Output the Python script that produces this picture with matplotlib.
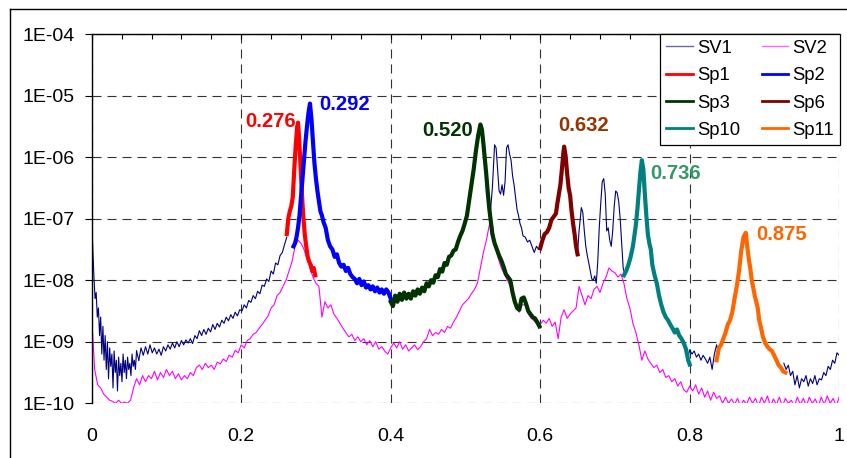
import numpy as np
import matplotlib
matplotlib.use("Agg")
import matplotlib.pyplot as plt
from matplotlib.lines import Line2D
from matplotlib.ticker import FixedLocator, FuncFormatter, NullLocator, MultipleLocator

plt.rcParams["font.family"] = ["Liberation Sans", "DejaVu Sans"]
plt.rcParams["lines.scale_dashes"] = False

# ---------------------------------------------------------------------------
# Spectra, stored as log10 of the amplitude
# ---------------------------------------------------------------------------

# SV1 near zero frequency: fine bins from 0 to 0.06
sv1_a1_x = np.linspace(0.0, 0.06, 41)
sv1_a1 = [-6.93, -7.5, -7.95, -8.3, -8.2, -8.6, -8.45, -8.9, -8.6, -9.2,
          -8.75, -9.3, -8.9, -9.45, -9.0, -9.6, -9.1, -9.4, -9.2, -9.75,
          -9.15, -9.5, -9.3, -9.8, -9.25, -9.55, -9.35, -9.65, -9.2, -9.5,
          -9.3, -9.6, -9.25, -9.45, -9.35, -9.55, -9.2, -9.4, -9.3, -9.45,
          -9.15]

# SV1 rising flank: bins from 0.063 to 0.261
sv1_a2_x = np.linspace(0.063, 0.261, 67)
sv1_a2 = [-9.3, -9.1, -9.22, -9.08, -9.2, -9.05, -9.18, -9.1, -9.2, -9.12,
          -9.22, -9.08, -9.15, -9.05, -9.12, -9.02, -9.1, -9.0, -9.08, -8.98,
          -9.05, -8.97, -9.02, -8.95, -9.03, -8.9, -8.95, -8.82, -8.9, -8.8,
          -8.88, -8.78, -8.84, -8.72, -8.8, -8.7, -8.76, -8.65, -8.7, -8.6,
          -8.66, -8.56, -8.62, -8.52, -8.58, -8.48, -8.5, -8.4, -8.45, -8.33,
          -8.36, -8.25, -8.3, -8.18, -8.22, -8.08, -8.1, -7.98, -8.02, -7.85,
          -7.9, -7.72, -7.75, -7.6, -7.55, -7.42, -7.3]

sv1_b_x = [0.533, 0.536, 0.539, 0.541, 0.543, 0.545, 0.547, 0.549, 0.551, 0.553,
           0.555, 0.557, 0.559, 0.561, 0.563, 0.565, 0.567, 0.569, 0.571, 0.573,
           0.575, 0.577, 0.580, 0.583, 0.586, 0.589, 0.592, 0.595, 0.598, 0.601]
sv1_b = [-6.95, -6.5, -5.8, -5.85, -6.2, -6.55, -6.6, -6.45, -6.62, -6.4,
         -5.85, -5.8, -5.95, -6.05, -6.3, -6.45, -6.65, -6.85, -6.95, -7.08,
         -7.15, -7.28, -7.3, -7.38, -7.35, -7.45, -7.55, -7.45, -7.5, -7.45]

sv1_c_x = [0.650, 0.652, 0.654, 0.655, 0.657, 0.659, 0.661, 0.663, 0.665, 0.667,
           0.669, 0.671, 0.673, 0.675, 0.677, 0.679, 0.681, 0.683, 0.685, 0.687,
           0.689, 0.691, 0.693, 0.695, 0.697, 0.699, 0.701, 0.703, 0.705, 0.707,
           0.709, 0.711, 0.713]
sv1_c = [-7.55, -7.2, -6.95, -6.82, -6.9, -7.2, -7.45, -7.6, -7.72, -7.85,
         -7.98, -8.0, -7.93, -8.05, -7.7, -7.15, -6.75, -6.4, -6.35, -6.6,
         -7.2, -7.15, -7.35, -7.45, -7.2, -6.8, -6.55, -6.58, -6.72, -7.0,
         -7.4, -7.8, -7.9]

sv1_d_x = [0.797, 0.800, 0.803, 0.806, 0.809, 0.812, 0.815, 0.818, 0.821, 0.824,
           0.827, 0.830, 0.833, 0.836, 0.839]
sv1_d = [-9.3, -9.13, -9.2, -9.15, -9.25, -9.2, -9.3, -9.22, -9.28, -9.35,
         -9.25, -9.45, -9.2, -9.05, -9.2]

sv1_e_x = np.linspace(0.926, 1.0, 26)
sv1_e = [-9.35, -9.45, -9.38, -9.55, -9.48, -9.7, -9.55, -9.75, -9.6, -9.65,
         -9.55, -9.72, -9.6, -9.68, -9.55, -9.7, -9.6, -9.62, -9.5, -9.55,
         -9.4, -9.45, -9.3, -9.35, -9.18, -9.22]

# SV2: uniform bins from 0 to 1
sv2_x = np.linspace(0.0, 1.0, 251)
sv2 = [-8.62, -9.45, -9.7, -9.75, -9.85, -9.9, -9.95, -9.97, -10.0, -9.95,
       -10.0, -9.98, -10.0, -9.95, -9.75, -9.6, -9.7, -9.55, -9.65, -9.55,
       -9.6, -9.48, -9.62, -9.5, -9.58, -9.45, -9.55, -9.48, -9.6, -9.52,
       -9.62, -9.55, -9.6, -9.5, -9.55, -9.42, -9.38, -9.45, -9.35, -9.42,
       -9.38, -9.45, -9.33, -9.36, -9.28, -9.32, -9.22, -9.25, -9.14, -9.18,
       -9.05, -9.1, -8.98, -8.95, -8.88, -8.85, -8.78, -8.72, -8.65, -8.58,
       -8.45, -8.4, -8.25, -8.2, -8.1, -8.0, -7.85, -7.7, -7.45, -7.35,
       -7.4, -7.5, -7.65, -7.8, -7.95, -8.05, -8.1, -8.6, -8.35, -8.45,
       -8.4, -8.55, -8.62, -8.7, -8.78, -8.85, -8.92, -8.88, -8.98, -8.92,
       -9.0, -8.95, -9.05, -8.98, -9.08, -9.0, -9.12, -9.08, -9.15, -9.2,
       -9.1, -9.02, -9.1, -9.0, -9.12, -9.05, -9.15, -9.1, -9.05, -9.13,
       -9.08, -9.0, -8.95, -8.8, -8.9, -8.85, -8.88, -8.8, -8.85, -8.75,
       -8.78, -8.68, -8.6, -8.5, -8.4, -8.35, -8.3, -8.22, -8.15, -8.05,
       -7.8, -7.55, -7.35, -7.1, -7.1, -7.45, -7.65, -7.8, -7.9, -8.0,
       -8.1, -8.28, -8.45, -8.52, -8.4, -8.4, -8.55, -8.62, -8.66, -8.72,
       -8.72, -8.65, -8.7, -8.62, -8.75, -8.68, -8.95, -8.6, -8.48, -8.62,
       -8.55, -8.5, -8.45, -8.1, -8.25, -8.4, -8.25, -8.3, -8.15, -8.1,
       -8.2, -8.05, -7.95, -7.8, -7.85, -7.88, -7.95, -7.9, -8.05, -8.3,
       -8.45, -8.7, -8.85, -9.05, -9.3, -9.15, -9.28, -9.35, -9.42, -9.38,
       -9.5, -9.45, -9.58, -9.55, -9.65, -9.6, -9.72, -9.65, -9.78, -9.82,
       -9.72, -9.8, -9.7, -9.85, -9.75, -9.9, -9.8, -9.95, -9.82, -9.92,
       -9.88, -10.0, -9.9, -10.0, -9.93, -10.02, -9.92, -10.05, -9.95, -10.02,
       -9.9, -10.0, -9.92, -10.05, -9.9, -10.0, -9.88, -10.05, -9.93, -10.02,
       -9.9, -10.05, -9.92, -10.0, -9.95, -10.05, -9.9, -10.02, -9.92, -10.05,
       -9.9, -10.0, -9.93, -10.05, -9.9, -10.02, -9.88, -10.0, -9.92, -10.05,
       -9.9]

# Picked peak segments
sp1_x = [0.261, 0.263, 0.265, 0.267, 0.269, 0.271, 0.273, 0.275, 0.276, 0.277,
         0.279, 0.281, 0.283, 0.285, 0.287, 0.289, 0.291, 0.293, 0.295, 0.297,
         0.299]
sp1 = [-7.25, -7.0, -6.88, -6.8, -6.65, -6.2, -5.8, -5.5, -5.44, -5.6,
       -6.05, -6.55, -6.95, -7.25, -7.45, -7.62, -7.7, -7.75, -7.85, -7.8,
       -7.92]

sp2_x = [0.270, 0.272, 0.274, 0.276, 0.278, 0.280, 0.282, 0.284, 0.286, 0.288,
         0.290, 0.292, 0.294, 0.296, 0.298, 0.300, 0.302, 0.304, 0.306, 0.308,
         0.310, 0.313, 0.316, 0.319, 0.322, 0.325, 0.328, 0.331, 0.334, 0.337,
         0.340, 0.343, 0.346, 0.349, 0.352, 0.355, 0.358, 0.361, 0.364, 0.367,
         0.370, 0.373, 0.376, 0.379, 0.382, 0.385, 0.388, 0.391, 0.394, 0.397,
         0.400]
sp2 = [-7.45, -7.4, -7.3, -7.15, -6.95, -6.65, -6.35, -6.05, -5.75, -5.5,
       -5.28, -5.13, -5.38, -5.75, -6.1, -6.35, -6.55, -6.72, -6.88, -6.95,
       -7.05, -7.15, -7.35, -7.45, -7.5, -7.62, -7.58, -7.72, -7.78, -7.75,
       -7.85, -7.8, -7.9, -7.95, -7.98, -8.05, -7.98, -8.08, -8.02, -8.12,
       -8.08, -8.15, -8.1, -8.18, -8.12, -8.2, -8.15, -8.22, -8.15, -8.2,
       -8.3]

sp3_x = [0.400, 0.403, 0.406, 0.409, 0.412, 0.415, 0.418, 0.421, 0.424, 0.427,
         0.430, 0.433, 0.436, 0.439, 0.442, 0.445, 0.448, 0.451, 0.454, 0.457,
         0.460, 0.463, 0.466, 0.469, 0.472, 0.475, 0.478, 0.481, 0.484, 0.487,
         0.490, 0.493, 0.496, 0.499, 0.502, 0.505, 0.508, 0.511, 0.514, 0.517,
         0.520, 0.522, 0.524, 0.526, 0.528, 0.530, 0.532, 0.534, 0.536, 0.539,
         0.542, 0.545, 0.548, 0.551, 0.554, 0.557, 0.560, 0.563, 0.566, 0.569,
         0.572, 0.575, 0.578, 0.581, 0.584, 0.587, 0.590, 0.593, 0.596, 0.599]
sp3 = [-8.35, -8.42, -8.25, -8.35, -8.22, -8.32, -8.2, -8.3, -8.22, -8.3,
       -8.18, -8.25, -8.15, -8.22, -8.12, -8.18, -8.05, -8.1, -8.0, -8.04,
       -7.92, -7.95, -7.82, -7.86, -7.72, -7.75, -7.62, -7.6, -7.52, -7.5,
       -7.38, -7.28, -7.2, -7.08, -6.95, -6.7, -6.45, -6.2, -5.9, -5.65,
       -5.47, -5.55, -5.78, -6.04, -6.3, -6.6, -6.85, -7.05, -7.25, -7.4,
       -7.5, -7.6, -7.68, -7.78, -7.9, -7.95, -8.0, -8.2, -8.35, -8.45,
       -8.48, -8.3, -8.28, -8.38, -8.5, -8.55, -8.6, -8.62, -8.68, -8.75]

sp6_x = [0.600, 0.603, 0.606, 0.609, 0.612, 0.615, 0.618, 0.621, 0.623, 0.625,
         0.627, 0.629, 0.631, 0.632, 0.634, 0.636, 0.638, 0.640, 0.642, 0.644,
         0.646, 0.648, 0.650]
sp6 = [-7.48, -7.35, -7.25, -7.22, -7.15, -7.02, -6.97, -6.92, -6.75, -6.6,
       -6.45, -6.2, -5.93, -5.83, -5.98, -6.26, -6.5, -6.62, -6.88, -7.08,
       -7.25, -7.45, -7.58]

sp10_x = [0.712, 0.715, 0.718, 0.721, 0.724, 0.726, 0.728, 0.730, 0.732, 0.734,
          0.736, 0.738, 0.740, 0.742, 0.744, 0.746, 0.748, 0.750, 0.753, 0.756,
          0.759, 0.762, 0.765, 0.768, 0.771, 0.774, 0.777, 0.780, 0.783, 0.786,
          0.789, 0.792, 0.795, 0.798, 0.800]
sp10 = [-7.92, -7.85, -7.75, -7.62, -7.45, -7.28, -7.1, -6.85, -6.55, -6.25,
        -6.05, -6.2, -6.6, -6.95, -7.25, -7.4, -7.5, -7.75, -7.92, -8.05,
        -8.25, -8.4, -8.52, -8.6, -8.65, -8.72, -8.78, -8.85, -8.8, -8.9,
        -8.95, -9.02, -9.12, -9.3, -9.37]

sp11_x = [0.836, 0.839, 0.842, 0.845, 0.848, 0.851, 0.854, 0.857, 0.860, 0.863,
          0.866, 0.869, 0.872, 0.875, 0.877, 0.879, 0.881, 0.883, 0.885, 0.887,
          0.889, 0.891, 0.893, 0.895, 0.898, 0.901, 0.904, 0.907, 0.910, 0.913,
          0.916, 0.919, 0.922, 0.925, 0.928]
sp11 = [-9.3, -9.1, -9.05, -8.95, -8.85, -8.72, -8.65, -8.52, -8.3, -8.1,
        -7.85, -7.52, -7.3, -7.23, -7.45, -7.65, -7.8, -8.0, -8.12, -8.25,
        -8.35, -8.45, -8.65, -8.75, -8.92, -9.02, -9.08, -9.12, -9.15, -9.22,
        -9.3, -9.38, -9.42, -9.48, -9.5]

# Peak frequencies written next to each picked peak
peak_freqs = [0.276, 0.292, 0.520, 0.632, 0.736, 0.875]

# ---------------------------------------------------------------------------
# Styles
# ---------------------------------------------------------------------------
c_sv1, c_sv2 = "#000080", "#FF00FF"
seg_specs = [
    ("Sp1", sp1_x, sp1, "#FF0000", "#FF0000", (-1.5, 0.5), "right"),
    ("Sp2", sp2_x, sp2, "#0000FF", "#0000FF", (7.0, -0.8), "left"),
    ("Sp3", sp3_x, sp3, "#003300", "#003300", (-5.5, -4.0), "right"),
    ("Sp6", sp6_x, sp6, "#800000", "#993300", (-4.0, 15.5), "left"),
    ("Sp10", sp10_x, sp10, "#008080", "#339966", (6.3, -9.4), "left"),
    ("Sp11", sp11_x, sp11, "#FF6600", "#FF6600", (7.3, -1.2), "left"),
]

W, H = 847, 458
fig = plt.figure(figsize=(W / 100, H / 100), dpi=100)
ax = fig.add_axes([91.7 / W, 1 - 403.3 / H, 747.5 / W, 369.3 / H])

# outer chart frame
fig.add_artist(Line2D([9.5 / W, 9.5 / W], [0, 1 - 8.5 / H], transform=fig.transFigure,
                      color="black", lw=1.0))
fig.add_artist(Line2D([9.5 / W, 1], [1 - 8.5 / H, 1 - 8.5 / H], transform=fig.transFigure,
                      color="black", lw=1.0))

thin = 0.8
for xs, ys in [(sv1_a1_x, sv1_a1), (sv1_a2_x, sv1_a2), (sv1_b_x, sv1_b),
               (sv1_c_x, sv1_c), (sv1_d_x, sv1_d), (sv1_e_x, sv1_e)]:
    ax.plot(xs, 10 ** np.asarray(ys), color=c_sv1, lw=thin, zorder=3)
# join the two near-zero SV1 stretches
ax.plot([sv1_a1_x[-1], sv1_a2_x[0]], 10 ** np.asarray([sv1_a1[-1], sv1_a2[0]]),
        color=c_sv1, lw=thin, zorder=3)
ax.plot(sv2_x, 10 ** np.asarray(sv2), color=c_sv2, lw=thin, zorder=3)

handles = {
    "SV1": Line2D([], [], color=c_sv1, lw=1.0, alpha=0.6),
    "SV2": Line2D([], [], color=c_sv2, lw=1.0, alpha=0.6),
}
for (name, xs, ys, col, tcol, off, ha), f in zip(seg_specs, peak_freqs):
    yv = 10 ** np.asarray(ys)
    ax.plot(xs, yv, color=col, lw=3.0, zorder=4, solid_joinstyle="round")
    handles[name] = Line2D([], [], color=col, lw=2.0)
    k = int(np.argmin(np.abs(np.asarray(xs) - f)))
    ax.annotate(f"{f:.3f}", xy=(f, yv[k]), xytext=off, textcoords="offset points",
                ha=ha, va="center", color=tcol, fontsize=14.6, fontweight="bold",
                zorder=6)

ax.set_xlim(0, 1)
ax.set_yscale("log")
ax.set_ylim(1e-10, 1e-4)

# grid
dash = (0, (6.5, 4.3))
ax.xaxis.set_major_locator(FixedLocator([0, 0.2, 0.4, 0.6, 0.8, 1.0]))
ax.xaxis.set_minor_locator(MultipleLocator(0.04))
ax.xaxis.set_major_formatter(FuncFormatter(lambda v, p: "0" if v == 0 else ("1" if v == 1 else f"{v:.1f}")))
ax.yaxis.set_major_locator(FixedLocator([10.0 ** e for e in range(-10, -3)]))
ax.yaxis.set_minor_locator(NullLocator())
ax.yaxis.set_major_formatter(FuncFormatter(lambda v, p: f"1E{int(round(np.log10(v))):+03d}"))
ax.grid(True, which="major", color="#333333", lw=0.8, linestyle=dash)
ax.set_axisbelow(True)

for s in ["right", "bottom"]:
    ax.spines[s].set_visible(False)
for s in ["left", "top"]:
    ax.spines[s].set_linewidth(1.0)
    ax.spines[s].set_zorder(5)

ax.tick_params(axis="x", which="both", bottom=False, top=True, labelbottom=True,
               labeltop=False, direction="in", length=3.8, width=0.8, pad=18.0,
               labelsize=14)
ax.tick_params(axis="y", which="major", left=True, right=False, direction="out",
               length=5, width=0.8, pad=7.5, labelsize=14)

order = ["SV1", "Sp1", "Sp3", "Sp10", "SV2", "Sp2", "Sp6", "Sp11"]
leg = ax.legend([handles[n] for n in order], order, loc="upper right",
                bbox_to_anchor=(1.001, 1.0), ncol=2, fontsize=13.3, frameon=True,
                fancybox=False, framealpha=1, edgecolor="black", borderaxespad=0,
                handlelength=1.45, handletextpad=0.22, columnspacing=1.15,
                labelspacing=0.56, borderpad=0.32)
leg.get_frame().set_linewidth(0.9)
leg.set_zorder(7)

fig.savefig("out.png", dpi=100)
